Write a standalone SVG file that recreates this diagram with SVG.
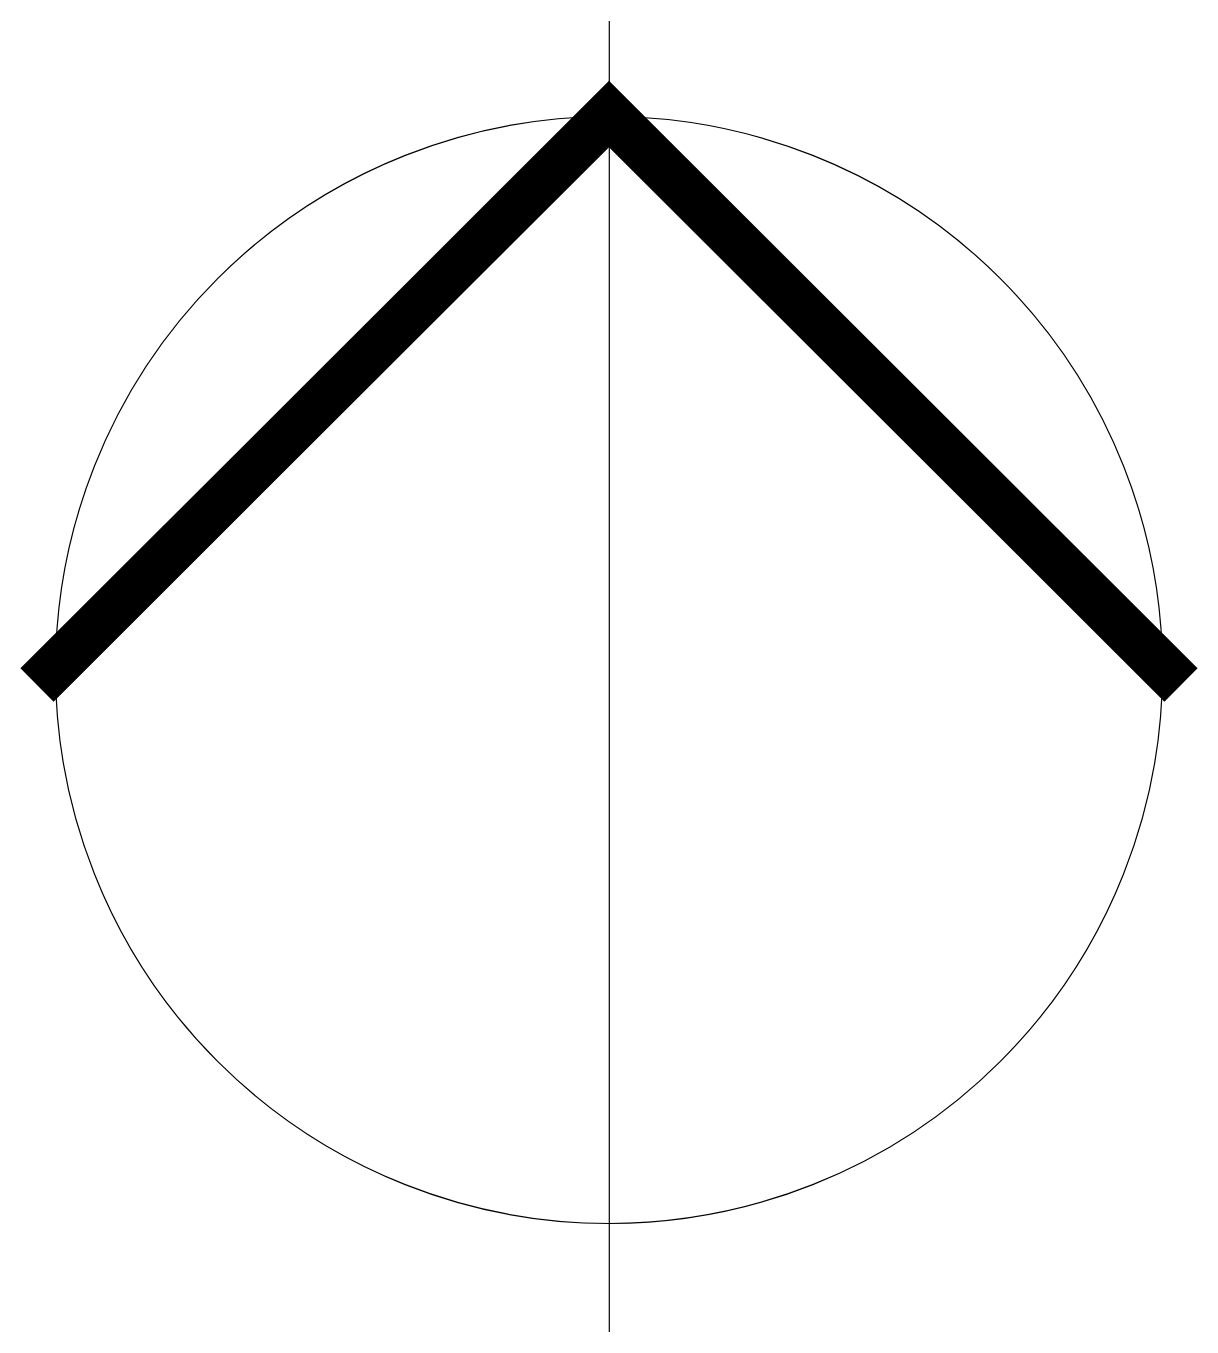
<svg xmlns="http://www.w3.org/2000/svg" width="1218" height="1353" viewBox="0 0 1218 1353">
<style>
.thin{fill:none;stroke:#000;stroke-width:1.2}
.thick{fill:none;stroke:#000;stroke-width:47;stroke-linejoin:miter;stroke-linecap:butt;stroke-miterlimit:10}
</style>
<rect width="1218" height="1353" fill="#fff"/>
<g id="circle"><circle class="thin" cx="609" cy="670" r="553.5"/></g>
<g id="axis"><line class="thin" x1="609.3" y1="21" x2="609.3" y2="1332"/></g>
<g id="chevron"><polyline class="thick" points="37,685 609,114 1181,685"/></g>
</svg>
